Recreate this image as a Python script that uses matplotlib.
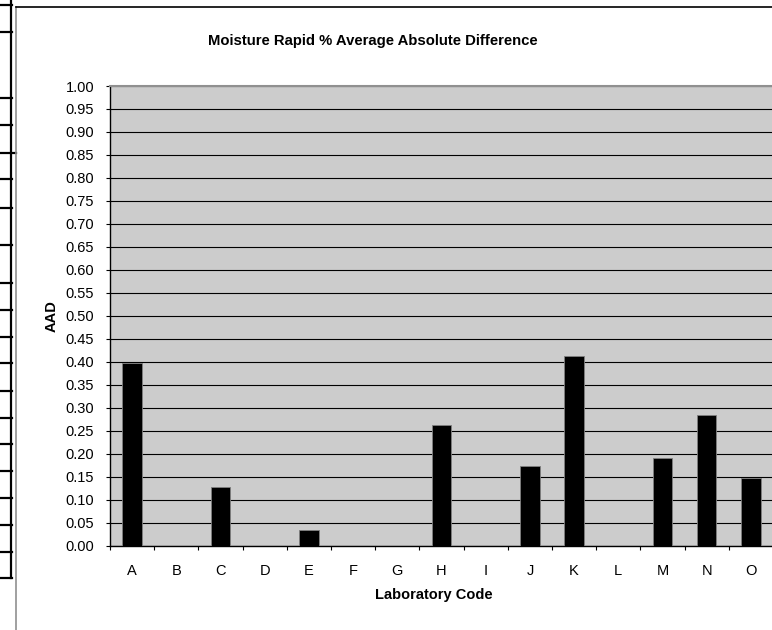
import matplotlib
matplotlib.use("Agg")
import matplotlib.pyplot as plt
import numpy as np

# Laboratory codes and AAD values
labs = ["A", "B", "C", "D", "E", "F", "G", "H", "I", "J", "K", "L", "M", "N", "O"]
aad = [0.397, 0.0, 0.128, 0.0, 0.035, 0.0, 0.0, 0.263, 0.0, 0.173,
       0.412, 0.0, 0.191, 0.285, 0.147]
y_ticks = [round(0.05 * i, 2) for i in range(21)]

plt.rcParams["font.family"] = ["Liberation Sans", "DejaVu Sans"]

W, H = 772, 630
fig = plt.figure(figsize=(W / 100, H / 100), dpi=100)

# decoration layer in pixel coordinates (spreadsheet cells + chart border)
deco = fig.add_axes([0, 0, 1, 1], zorder=-1)
deco.set_xlim(0, W)
deco.set_ylim(H, 0)
deco.axis("off")
deco.plot([11, 11], [0, 578.3], color="black", lw=1.6)
for yy in [5, 32, 98, 125, 153, 179, 207.7, 245, 282.7, 310, 336.7, 363.3,
           390.7, 417.7, 444, 471, 498, 524.7, 551.7, 578.3]:
    x_end = 16 if yy == 153 else 12
    deco.plot([0, x_end], [yy, yy], color="black", lw=1.6)
deco.plot([15.7, 15.7], [7, H], color="#909090", lw=1.2)
deco.plot([15.7, W], [7.3, 7.3], color="black", lw=1.2)

# plot area
left, right, top, bottom = 110, 773, 86, 545.7
ax = fig.add_axes([left / W, 1 - bottom / H, (right - left) / W, (bottom - top) / H])
ax.set_facecolor("#cccccc")

x = np.arange(len(labs))
ax.bar(x, aad, width=0.44, color="black", edgecolor="#808080", linewidth=0.6, zorder=3)

ax.set_xlim(-0.5, len(labs) - 0.5)
ax.set_ylim(0, 1.0)
ax.set_yticks(y_ticks)
ax.set_yticklabels(["%.2f" % v for v in y_ticks])
ax.yaxis.grid(True, color="black", linewidth=0.8, zorder=1)
ax.set_axisbelow(True)

ax.set_xticks(np.arange(len(labs) + 1) - 0.5)
ax.set_xticklabels([])
ax.set_xticks(x, minor=True)
ax.set_xticklabels(labs, minor=True)
ax.tick_params(axis="x", which="major", direction="out", length=3, width=0.8)
ax.tick_params(axis="x", which="minor", length=0, pad=13.5, labelsize=10.5)
ax.tick_params(axis="y", direction="out", length=3, width=0.8, pad=8.5, labelsize=10.5)

ax.spines["left"].set_color("black")
ax.spines["bottom"].set_color("black")
ax.spines["left"].set_linewidth(1.0)
ax.spines["bottom"].set_linewidth(1.0)
ax.spines["top"].set_color("#909090")
ax.spines["top"].set_linewidth(1.5)
ax.spines["right"].set_visible(False)

fig.text(373 / W, 1 - 40.7 / H, "Moisture Rapid % Average Absolute Difference",
         ha="center", va="center", fontsize=10.7, fontweight="bold")
fig.text(434 / W, 1 - 595 / H, "Laboratory Code",
         ha="center", va="center", fontsize=10.5, fontweight="bold")
fig.text(52 / W, 1 - 316 / H, "AAD", rotation=90,
         ha="center", va="center", fontsize=10.5, fontweight="bold")

fig.savefig("out.png", dpi=100)
